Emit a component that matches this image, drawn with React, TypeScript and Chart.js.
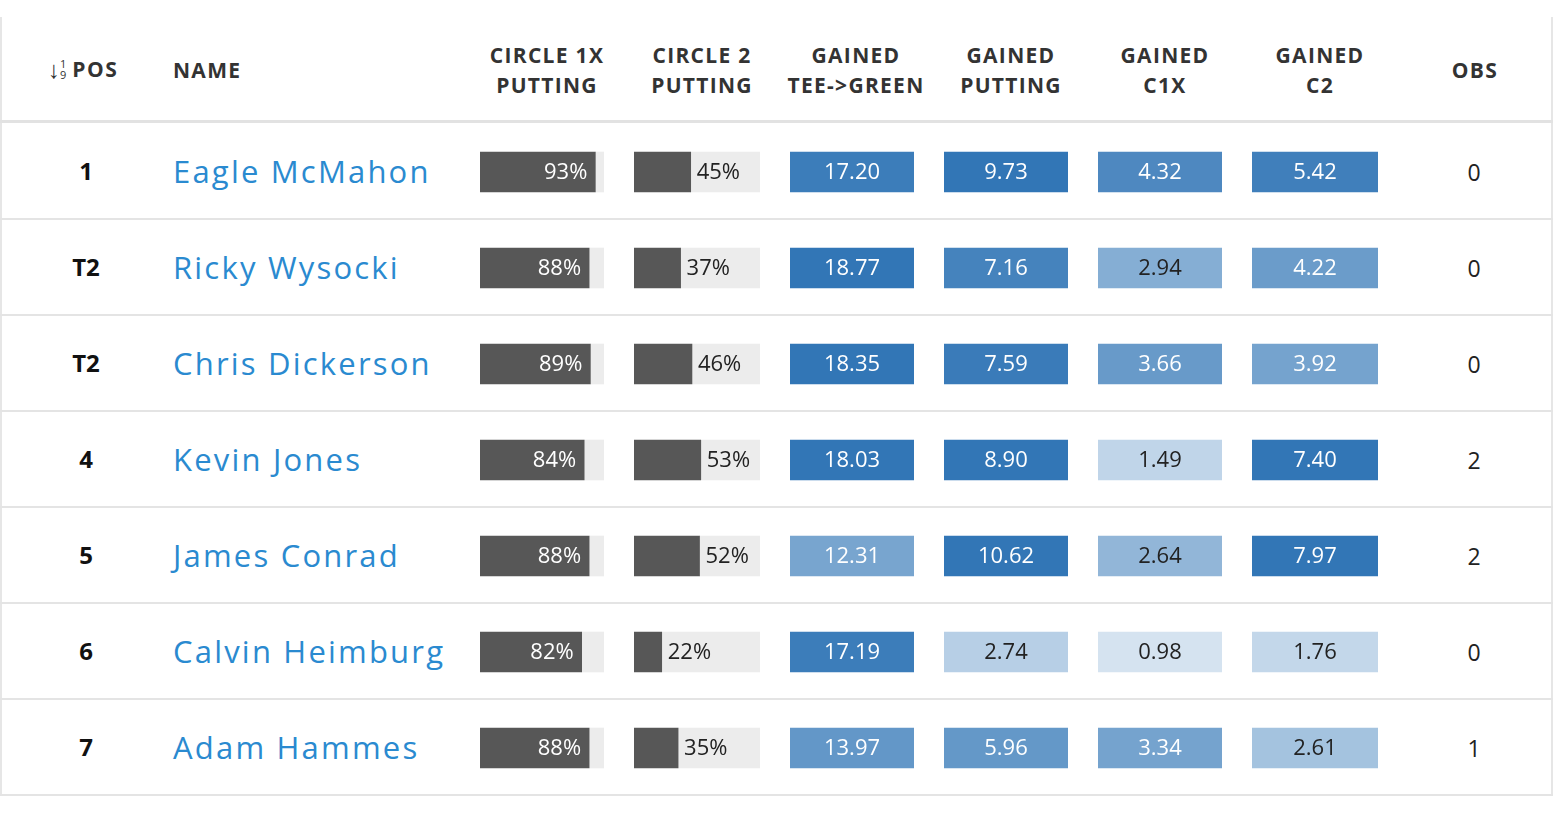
import React, { useEffect, useRef } from "react";
import { Chart, registerables } from "chart.js";

Chart.register(...registerables);

// ---------- data ----------
const positions = ["1", "T2", "T2", "4", "5", "6", "7"];
const players = [
  "Eagle McMahon",
  "Ricky Wysocki",
  "Chris Dickerson",
  "Kevin Jones",
  "James Conrad",
  "Calvin Heimburg",
  "Adam Hammes",
];
const circle1xPutting = [93, 88, 89, 84, 88, 82, 88];
const circle2Putting = [45, 37, 46, 53, 52, 22, 35];
const gainedTeeGreen = [17.2, 18.77, 18.35, 18.03, 12.31, 17.19, 13.97];
const gainedPutting = [9.73, 7.16, 7.59, 8.9, 10.62, 2.74, 5.96];
const gainedC1X = [4.32, 2.94, 3.66, 1.49, 2.64, 0.98, 3.34];
const gainedC2 = [5.42, 4.22, 3.92, 7.4, 7.97, 1.76, 2.61];
const obs = [0, 0, 0, 2, 2, 0, 1];

// ---------- style ----------
const FONT = "'Open Sans', 'Noto Sans', sans-serif";
const TOP = 17;
const HEADER_LINE = 120;
const BODY_TOP = 124;
const ROW_H = 96;
const BODY_H = ROW_H * players.length;

const LIGHT = [220, 232, 243];
const DARK = [50, 118, 182];
function heatT(v: number, lo: number, hi: number) {
  return Math.max(0, Math.min(1, (v - lo) / (hi - lo)));
}
function heatColor(v: number, lo: number, hi: number) {
  const t = heatT(v, lo, hi);
  const c = LIGHT.map((l, i) => Math.round(l + (DARK[i] - l) * t));
  return `rgb(${c[0]},${c[1]},${c[2]})`;
}

const cellLabelPlugin = {
  id: "cellLabels",
  afterDatasetsDraw(chart: any) {
    const o = chart.options.plugins.cellLabels;
    if (!o) return;
    const { ctx } = chart;
    const meta = chart.getDatasetMeta(0);
    ctx.save();
    ctx.font = `400 22px ${FONT}`;
    ctx.textBaseline = "middle";
    meta.data.forEach((bar: any, i: number) => {
      const p = bar.getProps(["x", "y", "base"], true);
      const text = o.texts[i];
      ctx.fillStyle = o.colors[i];
      if (o.mode === "inside") {
        ctx.textAlign = "right";
        ctx.fillText(text, p.x - 8, p.y + 1);
      } else if (o.mode === "outside") {
        ctx.textAlign = "left";
        ctx.fillText(text, p.x + 6, p.y + 1);
      } else {
        ctx.textAlign = "center";
        ctx.fillText(text, (p.x + p.base) / 2, p.y + 1);
      }
    });
    ctx.restore();
  },
};

type ColProps = {
  left: number;
  width: number;
  kind: "pctInside" | "pctOutside" | "heat";
  values: number[];
  lo?: number;
  hi?: number;
};

function BarColumn({ left, width, kind, values, lo = 0, hi = 1 }: ColProps) {
  const ref = useRef<HTMLCanvasElement>(null);
  useEffect(() => {
    if (!ref.current) return;
    let datasets: any[];
    let xMax: number;
    let labelOpts: any;
    if (kind === "heat") {
      xMax = 1;
      datasets = [
        {
          data: values.map(() => 1),
          backgroundColor: values.map((v) => heatColor(v, lo, hi)),
          barThickness: 40,
        },
      ];
      labelOpts = {
        mode: "center",
        texts: values.map((v) => v.toFixed(2)),
        colors: values.map((v) => (heatT(v, lo, hi) > 0.55 ? "#ffffff" : "#222222")),
      };
    } else {
      xMax = 100;
      datasets = [
        { data: values, backgroundColor: "#575757", barThickness: 40 },
        { data: values.map((v) => 100 - v), backgroundColor: "#ececec", barThickness: 40 },
      ];
      labelOpts = {
        mode: kind === "pctInside" ? "inside" : "outside",
        texts: values.map((v) => `${v}%`),
        colors: values.map(() => (kind === "pctInside" ? "#ffffff" : "#222222")),
      };
    }
    const chart = new Chart(ref.current, {
      type: "bar",
      data: { labels: players, datasets },
      options: {
        responsive: false,
        maintainAspectRatio: false,
        animation: false,
        indexAxis: "y",
        events: [],
        layout: { padding: 0 },
        scales: {
          x: { display: false, min: 0, max: xMax, stacked: true },
          y: { display: false, stacked: true },
        },
        plugins: {
          legend: { display: false },
          tooltip: { enabled: false },
          cellLabels: labelOpts,
        } as any,
      },
      plugins: [cellLabelPlugin],
    } as any);
    return () => chart.destroy();
  }, []);
  return (
    <canvas
      ref={ref}
      width={width}
      height={BODY_H}
      style={{ position: "absolute", left, top: BODY_TOP, width, height: BODY_H }}
    />
  );
}

const headerStyle: React.CSSProperties = {
  position: "absolute",
  fontFamily: FONT,
  fontWeight: 700,
  fontSize: 21,
  letterSpacing: 1.3,
  color: "#333333",
  lineHeight: "30px",
  textAlign: "center",
  whiteSpace: "nowrap",
  transform: "translateX(-50%)",
};

function Header({ cx, lines }: { cx: number; lines: string[] }) {
  const h = lines.length * 30;
  return (
    <div style={{ ...headerStyle, left: cx, top: 70 - h / 2 }}>
      {lines.map((l, i) => (
        <div key={i}>{l}</div>
      ))}
    </div>
  );
}

export default function App() {
  useEffect(() => {
    document.body.style.margin = "0";
  }, []);
  return (
    <div
      style={{
        position: "absolute",
        left: 0,
        top: 0,
        width: 1554,
        height: 816,
        background: "#ffffff",
        overflow: "hidden",
      }}
    >
      {/* table frame */}
      <div
        style={{
          position: "absolute",
          left: 0,
          top: TOP,
          width: 1549,
          height: BODY_TOP + BODY_H - TOP,
          borderLeft: "2px solid #e6e6e6",
          borderRight: "2px solid #e6e6e6",
        }}
      />
      {/* header line */}
      <div
        style={{ position: "absolute", left: 0, top: HEADER_LINE, width: 1553, height: 3, background: "#e2e2e2" }}
      />
      {/* row lines */}
      {players.map((_, i) => (
        <div
          key={i}
          style={{
            position: "absolute",
            left: 0,
            top: BODY_TOP + ROW_H * (i + 1) - 2,
            width: 1553,
            height: 2,
            background: "#e4e4e4",
          }}
        />
      ))}

      {/* headers */}
      <div
        style={{
          position: "absolute",
          left: 48,
          top: 54,
          height: 30,
          display: "flex",
          alignItems: "center",
          fontFamily: FONT,
          color: "#333333",
          whiteSpace: "nowrap",
        }}
      >
        <span style={{ fontSize: 24, fontWeight: 700, lineHeight: "24px" }}>↓</span>
        <span
          style={{
            display: "inline-flex",
            flexDirection: "column",
            fontSize: 11,
            lineHeight: "11px",
            marginLeft: 0,
            marginRight: 6,
          }}
        >
          <span>1</span>
          <span>9</span>
        </span>
        <span style={{ fontSize: 21, fontWeight: 700, letterSpacing: 1.5 }}>POS</span>
      </div>
      <div style={{ ...headerStyle, transform: "none", left: 173, top: 55 }}>NAME</div>
      <Header cx={547} lines={["CIRCLE 1X", "PUTTING"]} />
      <Header cx={702} lines={["CIRCLE 2", "PUTTING"]} />
      <Header cx={856} lines={["GAINED", "TEE->GREEN"]} />
      <Header cx={1011} lines={["GAINED", "PUTTING"]} />
      <Header cx={1165} lines={["GAINED", "C1X"]} />
      <Header cx={1320} lines={["GAINED", "C2"]} />
      <Header cx={1475} lines={["OBS"]} />

      {/* text columns */}
      {players.map((name, i) => {
        const cy = BODY_TOP + ROW_H * i + 48;
        return (
          <React.Fragment key={name}>
            <div
              style={{
                position: "absolute",
                left: 86,
                top: cy - 16,
                transform: "translateX(-50%)",
                fontFamily: FONT,
                fontWeight: 700,
                fontSize: 24,
                lineHeight: "30px",
                color: "#111111",
                whiteSpace: "nowrap",
              }}
            >
              {positions[i]}
            </div>
            <div
              style={{
                position: "absolute",
                left: 173,
                top: cy - 21,
                fontFamily: FONT,
                fontSize: 31,
                letterSpacing: 2.2,
                lineHeight: "40px",
                color: "#2a8ad0",
                whiteSpace: "nowrap",
              }}
            >
              {name}
            </div>
            <div
              style={{
                position: "absolute",
                left: 1474,
                top: cy - 15,
                transform: "translateX(-50%)",
                fontFamily: FONT,
                fontSize: 23,
                lineHeight: "30px",
                color: "#222222",
                whiteSpace: "nowrap",
              }}
            >
              {obs[i]}
            </div>
          </React.Fragment>
        );
      })}

      {/* bar columns */}
      <BarColumn left={480} width={124} kind="pctInside" values={circle1xPutting} />
      <BarColumn left={634} width={126} kind="pctOutside" values={circle2Putting} />
      <BarColumn left={790} width={124} kind="heat" values={gainedTeeGreen} lo={4.1} hi={18.0} />
      <BarColumn left={944} width={124} kind="heat" values={gainedPutting} lo={1.3} hi={7.9} />
      <BarColumn left={1098} width={124} kind="heat" values={gainedC1X} lo={0.8} hi={5.0} />
      <BarColumn left={1252} width={126} kind="heat" values={gainedC2} lo={1.05} hi={5.8} />
    </div>
  );
}
